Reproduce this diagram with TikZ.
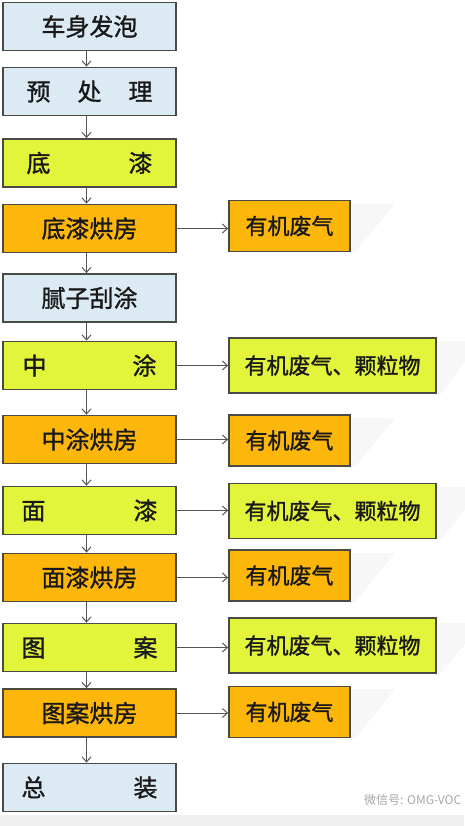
\documentclass[tikz,border=0pt]{standalone}
\usepackage{fontspec}
\newfontfamily\cjk[FakeBold=1.2]{Noto Sans CJK SC}
\newfontfamily\cjkthin{Noto Sans CJK SC}
\usetikzlibrary{arrows.meta}
\definecolor{bluebox}{HTML}{DCEAF3}
\definecolor{yellowbox}{HTML}{E2F53A}
\definecolor{orangebox}{HTML}{FDB60A}
\definecolor{edgecol}{HTML}{4A4A44}
\definecolor{arrowcol}{HTML}{555555}
\begin{document}
\begin{tikzpicture}[x=1pt,y=-1pt,
  boxbase/.style={draw=edgecol,line width=1.8pt,inner sep=0pt,text=black!90},
  leftbox/.style={boxbase,minimum width=173pt,minimum height=48pt,font=\cjk\fontsize{24}{24}\selectfont},
  shortbox/.style={boxbase,minimum width=121pt,minimum height=51pt,font=\cjk\fontsize{22}{22}\selectfont},
  longbox/.style={boxbase,minimum width=207pt,minimum height=55pt,font=\cjk\fontsize{22}{22}\selectfont},
  blue/.style={fill=bluebox},
  yel/.style={fill=yellowbox},
  ora/.style={fill=orangebox},
  flow/.style={draw=arrowcol,line width=1pt,-{Straight Barb[length=5pt,width=9pt]}}
]
\useasboundingbox (0,0) rectangle (464,826);
\fill[black!6] (0,815) rectangle (464,826);
% faint shadows
\foreach \ya/\yb/\xr in {200/252/350,337/394/436,414/467/350,483/539/437,549/602/350,619/672/437,685/739/350}{
  \fill[black!3] (\xr,\ya+4) -- (\xr+45,\ya+4) -- (\xr+5,\yb) -- (\xr,\yb) -- cycle;
}
% left column
\node[leftbox,blue] (a1) at (89.5,26.5) {车身发泡};
\node[leftbox,blue] (a2) at (89.5,91.5) {\makebox[126pt]{预\hfill 处\hfill 理}};
\node[leftbox,yel] (a3) at (89.5,163) {\makebox[126pt]{底\hfill 漆}};
\node[leftbox,ora] (a4) at (89.5,228.5) {底漆烘房};
\node[leftbox,blue] (a5) at (89.5,298) {腻子刮涂};
\node[leftbox,yel] (a6) at (89.5,365.5) {\makebox[134pt]{中\hfill 涂}};
\node[leftbox,ora] (a7) at (89.5,439.5) {中涂烘房};
\node[leftbox,yel] (a8) at (89.5,510.5) {\makebox[136pt]{面\hfill 漆}};
\node[leftbox,ora] (a9) at (89.5,577.5) {面漆烘房};
\node[leftbox,yel] (a10) at (89.5,647.5) {\makebox[136pt]{图\hfill 案}};
\node[leftbox,ora] (a11) at (89.5,713) {图案烘房};
\node[leftbox,blue] (a12) at (89.5,787.5) {\makebox[136pt]{总\hfill 装}};
% right column
\node[shortbox,ora] (b4) at (289.5,226) {有机废气};
\node[longbox,yel] (b6) at (332.5,365.5) {有机废气、颗粒物};
\node[shortbox,ora] (b7) at (289.5,440.5) {有机废气};
\node[longbox,yel] (b8) at (332.5,511) {有机废气、颗粒物};
\node[shortbox,ora] (b9) at (289.5,575.5) {有机废气};
\node[longbox,yel] (b10) at (332.5,645.5) {有机废气、颗粒物};
\node[shortbox,ora] (b11) at (289.5,712) {有机废气};
% vertical flow
\foreach \i [evaluate=\i as \j using int(\i+1)] in {1,...,11}{
  \draw[flow] ([xshift=-3pt]a\i.south) -- ([xshift=-3pt]a\j.north);
}
% horizontal flow
\foreach \i in {4,6,7,8,9,10,11}{
  \draw[flow] (a\i.east) -- (b\i.west |- a\i.east);
}
% watermark
\node[anchor=west,text=black!35,font=\cjkthin\fontsize{12}{12}\selectfont,inner sep=0pt] (wm) at (364,800) {微信号: OMG-VOC};
\end{tikzpicture}
\end{document}
